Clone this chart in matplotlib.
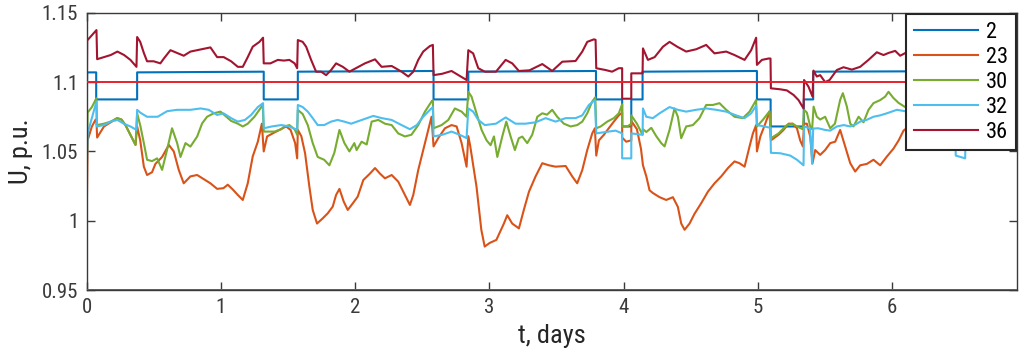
import matplotlib
matplotlib.use("Agg")
import matplotlib.pyplot as plt
from matplotlib.ticker import FormatStrFormatter

plt.rcParams['font.family'] = ['Roboto Condensed', 'Liberation Sans', 'DejaVu Sans']

# node voltages (t in days, U in p.u.)
t_2 = [0, 0.005, 0.072, 0.072, 0.377, 0.377, 1.32, 1.32, 1.574, 1.574, 2.585, 2.585,
       2.844, 2.844, 3.795, 3.795, 3.99, 3.99, 4.058, 4.058, 4.142, 4.142, 4.994, 4.994,
       5.096, 5.096, 5.343, 5.343, 5.413, 5.413, 6.93]
u_2 = [1.07, 1.107, 1.107, 1.0875, 1.0875, 1.107, 1.1075, 1.0875, 1.0875, 1.1075, 1.108, 1.0875,
       1.0875, 1.1075, 1.108, 1.0875, 1.0875, 1.068, 1.068, 1.0875, 1.0875, 1.1075, 1.108, 1.0875,
       1.0875, 1.068, 1.068, 1.0875, 1.0875, 1.1075, 1.108]

t_23 = [0, 0.008, 0.04, 0.068, 0.074, 0.079, 0.13, 0.18, 0.228, 0.26, 0.29, 0.327, 0.365, 0.377,
        0.40, 0.427, 0.451, 0.488, 0.513, 0.563, 0.613, 0.65, 0.687, 0.724, 0.774, 0.824, 0.873,
        0.923, 0.973, 1.02, 1.052, 1.09, 1.127, 1.164, 1.201, 1.238, 1.276, 1.306, 1.32, 1.345,
        1.387, 1.437, 1.487, 1.52, 1.554, 1.569, 1.574, 1.60, 1.628, 1.66, 1.685, 1.717, 1.76,
        1.797, 1.834, 1.859, 1.884, 1.916, 1.946, 1.983, 2.02, 2.062, 2.111, 2.149, 2.186, 2.223,
        2.273, 2.322, 2.372, 2.409, 2.434, 2.471, 2.508, 2.546, 2.57, 2.585, 2.62, 2.67, 2.719,
        2.757, 2.794, 2.831, 2.844, 2.858, 2.905, 2.941, 2.966, 3.003, 3.053, 3.109, 3.134, 3.171,
        3.221, 3.258, 3.296, 3.345, 3.395, 3.444, 3.494, 3.569, 3.618, 3.655, 3.693, 3.73, 3.767,
        3.787, 3.797, 3.817, 3.854, 3.89, 3.928, 3.965, 3.99, 3.99, 4.02, 4.058, 4.058, 4.10, 4.13,
        4.145, 4.17, 4.194, 4.219, 4.269, 4.318, 4.368, 4.405, 4.43, 4.455, 4.492, 4.529, 4.579,
        4.629, 4.678, 4.728, 4.778, 4.827, 4.864, 4.902, 4.939, 4.964, 4.988, 4.994, 5.019, 5.056,
        5.088, 5.098, 5.155, 5.192, 5.23, 5.26, 5.292, 5.316, 5.336, 5.345, 5.366, 5.391, 5.408,
        5.428, 5.465, 5.502, 5.54, 5.577, 5.614, 5.651, 5.689, 5.726, 5.763, 5.813, 5.862, 5.912,
        5.962, 6.011, 6.05, 6.086, 6.15, 6.4, 6.7, 6.93]
u_23 = [0.989, 1.058, 1.068, 1.073, 1.072, 1.060, 1.068, 1.071, 1.074, 1.073, 1.069, 1.062, 1.0547, 1.068,
        1.058, 1.039, 1.033, 1.035, 1.041, 1.046, 1.0547, 1.050, 1.0367, 1.027, 1.032, 1.033, 1.030,
        1.027, 1.023, 1.0235, 1.026, 1.0225, 1.0186, 1.015, 1.027, 1.0464, 1.057, 1.070, 1.050, 1.0608,
        1.063, 1.0655, 1.068, 1.0655, 1.056, 1.045, 1.0655, 1.061, 1.0487, 1.0246, 1.0078, 0.998, 1.0018,
        1.0054, 1.0102, 1.0186, 1.023, 1.0138, 1.0078, 1.0125, 1.0174, 1.0294, 1.034, 1.038, 1.034, 1.0306,
        1.033, 1.0282, 1.0186, 1.0114, 1.0186, 1.0366, 1.051, 1.0655, 1.075, 1.0536, 1.0596, 1.0667, 1.069,
        1.068, 1.056, 1.039, 1.061, 1.054, 1.0246, 0.9934, 0.9814, 0.984, 0.9862, 0.998, 1.004, 0.998,
        0.9945, 1.008, 1.021, 1.032, 1.0415, 1.040, 1.039, 1.0395, 1.032, 1.027, 1.0366, 1.051, 1.063,
        1.0667, 1.047, 1.058, 1.062, 1.0667, 1.0715, 1.076, 1.078, 1.060, 1.057, 1.058, 1.072, 1.066, 1.052,
        1.040, 1.032, 1.022, 1.020, 1.017, 1.015, 1.017, 1.010, 0.998, 0.9935, 0.998, 1.005, 1.0127,
        1.021, 1.027, 1.032, 1.038, 1.0428, 1.0415, 1.039, 1.0536, 1.063, 1.069, 1.050, 1.0607, 1.070,
        1.0787, 1.058, 1.062, 1.0655, 1.070, 1.070, 1.0667, 1.058, 1.0536, 1.070, 1.070, 1.0607, 1.0415,
        1.051, 1.0475, 1.051, 1.056, 1.057, 1.0655, 1.0536, 1.0415, 1.0355, 1.040, 1.041, 1.044, 1.040,
        1.0463, 1.052, 1.058, 1.065, 1.07, 1.072, 1.07, 1.068]

t_30 = [0, 0.008, 0.04, 0.074, 0.077, 0.13, 0.18, 0.228, 0.26, 0.29, 0.327, 0.365, 0.377, 0.402,
        0.427, 0.451, 0.488, 0.526, 0.563, 0.60, 0.637, 0.675, 0.70, 0.737, 0.774, 0.824, 0.861,
        0.898, 0.948, 0.998, 1.03, 1.077, 1.127, 1.164, 1.201, 1.251, 1.313, 1.32, 1.40, 1.45, 1.474,
        1.511, 1.55, 1.569, 1.574, 1.61, 1.648, 1.685, 1.722, 1.77, 1.809, 1.846, 1.884, 1.921, 1.958,
        1.995, 2.012, 2.049, 2.087, 2.124, 2.174, 2.223, 2.273, 2.322, 2.372, 2.42, 2.471, 2.521, 2.57,
        2.58, 2.585, 2.645, 2.695, 2.744, 2.794, 2.831, 2.844, 2.868, 2.905, 2.943, 2.98, 3.01, 3.035,
        3.06, 3.097, 3.127, 3.159, 3.191, 3.22, 3.246, 3.283, 3.32, 3.358, 3.395, 3.43, 3.469, 3.506,
        3.556, 3.606, 3.655, 3.693, 3.73, 3.767, 3.79, 3.797, 3.83, 3.879, 3.928, 3.965, 3.99, 3.99,
        4.03, 4.058, 4.058, 4.10, 4.142, 4.145, 4.17, 4.207, 4.244, 4.281, 4.306, 4.343, 4.38, 4.405,
        4.43, 4.467, 4.517, 4.566, 4.616, 4.666, 4.715, 4.765, 4.827, 4.889, 4.939, 4.988, 4.994, 5.04,
        5.088, 5.098, 5.155, 5.217, 5.26, 5.292, 5.336, 5.345, 5.366, 5.391, 5.405, 5.416, 5.44, 5.465,
        5.502, 5.54, 5.575, 5.614, 5.634, 5.664, 5.689, 5.713, 5.751, 5.788, 5.825, 5.862, 5.912, 5.949,
        5.974, 6.011, 6.049, 6.098, 6.3, 6.6, 6.93]
u_30 = [1.015, 1.078, 1.082, 1.0884, 1.069, 1.070, 1.0715, 1.074, 1.073, 1.069, 1.062, 1.0547, 1.0775, 1.068,
        1.056, 1.044, 1.043, 1.045, 1.0367, 1.0512, 1.0667, 1.056, 1.046, 1.056, 1.0535, 1.0607, 1.0702,
        1.075, 1.0775, 1.0787, 1.076, 1.072, 1.070, 1.068, 1.070, 1.075, 1.0835, 1.0643, 1.0643, 1.066, 1.068,
        1.069, 1.066, 1.062, 1.0799, 1.077, 1.069, 1.056, 1.046, 1.044, 1.040, 1.049, 1.0655, 1.056, 1.050,
        1.056, 1.051, 1.057, 1.055, 1.0715, 1.0727, 1.070, 1.069, 1.063, 1.0608, 1.062, 1.069, 1.0787, 1.086,
        1.087, 1.0667, 1.069, 1.0727, 1.081, 1.0787, 1.075, 1.093, 1.0895, 1.0775, 1.0655, 1.058, 1.0545, 1.0608,
        1.046, 1.0608, 1.0715, 1.0608, 1.051, 1.0595, 1.0607, 1.056, 1.062, 1.075, 1.0775, 1.0765, 1.080, 1.075,
        1.070, 1.068, 1.069, 1.0715, 1.0775, 1.086, 1.089, 1.0667, 1.068, 1.0715, 1.074, 1.0775, 1.084, 1.068,
        1.068, 1.070, 1.076, 1.070, 1.062, 1.066, 1.064, 1.067, 1.061, 1.056, 1.0536, 1.0655, 1.081, 1.075,
        1.0595, 1.068, 1.069, 1.074, 1.0835, 1.0835, 1.0848, 1.080, 1.075, 1.074, 1.0787, 1.087, 1.068, 1.073,
        1.079, 1.0595, 1.063, 1.069, 1.070, 1.068, 1.066, 1.080, 1.078, 1.068, 1.066, 1.0823, 1.075, 1.073,
        1.075, 1.0667, 1.070, 1.0872, 1.092, 1.0823, 1.070, 1.068, 1.075, 1.071, 1.080, 1.0848, 1.087, 1.0895,
        1.093, 1.0885, 1.085, 1.082, 1.085, 1.088, 1.086]

t_32 = [0, 0.008, 0.074, 0.077, 0.13, 0.18, 0.23, 0.278, 0.327, 0.372, 0.377, 0.40, 0.45, 0.53,
        0.60, 0.675, 0.774, 0.85, 0.91, 0.973, 1.02, 1.077, 1.127, 1.18, 1.226, 1.276, 1.315, 1.32,
        1.38, 1.45, 1.51, 1.569, 1.574, 1.61, 1.648, 1.685, 1.722, 1.77, 1.822, 1.87, 1.92, 1.971,
        2.05, 2.136, 2.20, 2.273, 2.347, 2.409, 2.46, 2.508, 2.558, 2.58, 2.585, 2.65, 2.719, 2.78,
        2.831, 2.844, 2.88, 2.918, 2.967, 3.05, 3.122, 3.196, 3.27, 3.345, 3.42, 3.494, 3.569, 3.643,
        3.693, 3.742, 3.787, 3.797, 3.866, 3.941, 3.99, 3.99, 4.058, 4.058, 4.142, 4.145, 4.17, 4.219,
        4.269, 4.343, 4.405, 4.467, 4.54, 4.616, 4.691, 4.765, 4.839, 4.902, 4.951, 4.988, 4.994, 5.05,
        5.095, 5.098, 5.167, 5.242, 5.292, 5.341, 5.345, 5.39, 5.405, 5.413, 5.45, 5.502, 5.54, 5.589,
        5.64, 5.689, 5.73, 5.763, 5.81, 5.862, 5.912, 5.962, 6.036, 6.098, 6.3, 6.47, 6.475, 6.545,
        6.55, 6.93]
u_32 = [1.029, 1.063, 1.086, 1.068, 1.069, 1.0715, 1.0727, 1.070, 1.068, 1.0655, 1.080, 1.078, 1.075, 1.075,
        1.079, 1.080, 1.080, 1.081, 1.080, 1.0763, 1.0775, 1.074, 1.0715, 1.0727, 1.0763, 1.082, 1.0848, 1.0667,
        1.068, 1.069, 1.068, 1.0655, 1.0835, 1.082, 1.0787, 1.074, 1.069, 1.069, 1.0715, 1.0727, 1.0715, 1.070,
        1.0727, 1.0756, 1.074, 1.0727, 1.069, 1.066, 1.069, 1.075, 1.080, 1.082, 1.0608, 1.062, 1.0643, 1.062,
        1.0596, 1.081, 1.0787, 1.0727, 1.069, 1.070, 1.0745, 1.070, 1.070, 1.071, 1.074, 1.0715, 1.074, 1.074,
        1.076, 1.0835, 1.087, 1.063, 1.064, 1.065, 1.063, 1.045, 1.045, 1.063, 1.062, 1.081, 1.075, 1.074,
        1.0775, 1.082, 1.080, 1.0787, 1.080, 1.081, 1.080, 1.0787, 1.076, 1.074, 1.0775, 1.083, 1.069, 1.068,
        1.067, 1.049, 1.0487, 1.047, 1.044, 1.040, 1.068, 1.0665, 1.041, 1.0665, 1.0667, 1.0655, 1.065, 1.068,
        1.069, 1.068, 1.0695, 1.0715, 1.0727, 1.075, 1.076, 1.0775, 1.080, 1.079, 1.077, 1.075, 1.047, 1.045,
        1.07, 1.072]

t_36 = [0, 0.005, 0.074, 0.079, 0.13, 0.18, 0.23, 0.28, 0.327, 0.372, 0.377, 0.40, 0.427, 0.451,
        0.50, 0.55, 0.576, 0.625, 0.675, 0.724, 0.774, 0.824, 0.873, 0.923, 0.973, 1.022, 1.077,
        1.127, 1.164, 1.201, 1.238, 1.288, 1.315, 1.32, 1.37, 1.425, 1.47, 1.511, 1.55, 1.569, 1.574,
        1.61, 1.636, 1.673, 1.71, 1.748, 1.785, 1.822, 1.859, 1.909, 1.958, 2.025, 2.074, 2.149,
        2.198, 2.273, 2.347, 2.397, 2.434, 2.471, 2.508, 2.558, 2.58, 2.585, 2.65, 2.719, 2.77,
        2.831, 2.844, 2.88, 2.918, 2.967, 3.05, 3.122, 3.171, 3.221, 3.30, 3.395, 3.469, 3.544,
        3.643, 3.693, 3.73, 3.779, 3.792, 3.797, 3.866, 3.915, 3.965, 3.99, 3.99, 4.058, 4.058,
        4.142, 4.145, 4.182, 4.232, 4.294, 4.343, 4.40, 4.467, 4.542, 4.616, 4.678, 4.765, 4.827,
        4.902, 4.951, 4.988, 4.994, 5.031, 5.081, 5.095, 5.098, 5.167, 5.217, 5.267, 5.304, 5.341,
        5.345, 5.378, 5.408, 5.415, 5.44, 5.465, 5.502, 5.535, 5.589, 5.639, 5.701, 5.763, 5.825,
        5.887, 5.937, 5.974, 6.024, 6.061, 6.10, 6.3, 6.5, 6.7, 6.93]
u_36 = [1.062, 1.130, 1.1375, 1.1165, 1.118, 1.1195, 1.122, 1.1195, 1.116, 1.111, 1.1325, 1.129, 1.121, 1.115,
        1.115, 1.1135, 1.117, 1.123, 1.121, 1.119, 1.122, 1.123, 1.124, 1.125, 1.118, 1.118, 1.115,
        1.111, 1.111, 1.118, 1.1255, 1.129, 1.132, 1.1135, 1.1135, 1.116, 1.1155, 1.116, 1.1135, 1.110, 1.1303,
        1.129, 1.1255, 1.116, 1.1075, 1.1075, 1.105, 1.1087, 1.1135, 1.111, 1.1075, 1.111, 1.1135, 1.1164,
        1.111, 1.1116, 1.1075, 1.104, 1.1075, 1.116, 1.122, 1.126, 1.1268, 1.105, 1.106, 1.108, 1.105,
        1.1015, 1.123, 1.1207, 1.110, 1.1075, 1.1075, 1.116, 1.1135, 1.108, 1.1085, 1.113, 1.108, 1.1147,
        1.1152, 1.122, 1.129, 1.1308, 1.1305, 1.110, 1.1087, 1.1075, 1.110, 1.110, 1.088, 1.088, 1.1063,
        1.1063, 1.1243, 1.116, 1.118, 1.1255, 1.129, 1.1255, 1.122, 1.1237, 1.1268, 1.1207, 1.122, 1.1195,
        1.116, 1.123, 1.132, 1.1124, 1.116, 1.117, 1.117, 1.0955, 1.0948, 1.094, 1.0907, 1.087, 1.081,
        1.1015, 1.0967, 1.0895, 1.1083, 1.104, 1.105, 1.100, 1.1015, 1.1087, 1.1107, 1.109, 1.111, 1.116,
        1.1215, 1.1195, 1.121, 1.1225, 1.119, 1.121, 1.123, 1.12, 1.124, 1.122]

labels = ['2', '23', '30', '32', '36']
colors = ['#0072BD', '#D95319', '#77AC30', '#4DBEEE', '#A2142F']
limits = [0.95, 1.1]

fig = plt.figure(figsize=(10.24, 3.64), dpi=100)
ax = fig.add_axes([0.0845, 0.203, 0.9085, 0.762])

series = [(t_2, u_2), (t_23, u_23), (t_30, u_30), (t_32, u_32), (t_36, u_36)]
for (t, u), lab, c in zip(series, labels, colors):
    ax.plot(t, u, color=c, lw=1.5, label=lab)

for lim in limits:
    ax.axhline(lim, color='#E8202A', lw=1.4, zorder=3)

ax.set_xlim(0, 6.93)
ax.set_ylim(0.95, 1.15)
ax.set_xticks(range(7))
ax.set_yticks([0.95, 1.0, 1.05, 1.1, 1.15])
ax.yaxis.set_major_formatter(FormatStrFormatter('%g'))
ax.tick_params(direction='in', length=6, width=1, top=True, right=True,
               labelsize=15, colors='#3a3a3a', pad=6)
for s in ax.spines.values():
    s.set_color('#3a3a3a')
    s.set_linewidth(1)

ax.set_xlabel('t, days', fontsize=19, color='#262626', labelpad=5)
ax.set_ylabel('U, p.u.', fontsize=19, color='#262626', labelpad=6)

leg = ax.legend(loc='upper right', fontsize=16, handlelength=2.9, handletextpad=0.35,
                labelspacing=0.18, borderpad=0.35, borderaxespad=0.05,
                fancybox=False, framealpha=1, edgecolor='#262626')
leg.get_frame().set_linewidth(1.5)
leg.set_zorder(5)

fig.savefig('out.png', dpi=100)
